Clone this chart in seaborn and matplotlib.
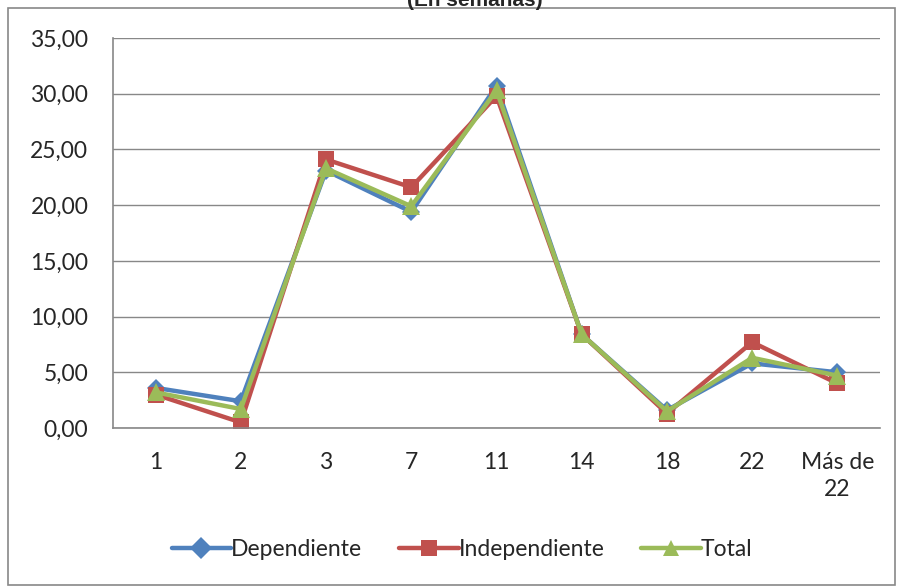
import matplotlib
matplotlib.use("Agg")
import matplotlib.pyplot as plt
import seaborn as sns
import pandas as pd
from matplotlib.patches import Rectangle

categories = ["1", "2", "3", "7", "11", "14", "18", "22", "Más de\n22"]
dependiente = [3.6, 2.4, 23.1, 19.4, 30.7, 8.4, 1.6, 5.8, 5.0]
independiente = [3.0, 0.5, 24.1, 21.6, 29.8, 8.4, 1.3, 7.7, 4.0]
total = [3.2, 1.7, 23.3, 19.9, 30.3, 8.4, 1.5, 6.3, 4.7]
series_names = ["Dependiente", "Independiente", "Total"]
y_ticks = [0, 5, 10, 15, 20, 25, 30, 35]

rows = []
for name, vals in zip(series_names, [dependiente, independiente, total]):
    for c, v in zip(categories, vals):
        rows.append({"Semana": c, "Valor": v, "Serie": name})
df = pd.DataFrame(rows)

sns.set_style("white")
plt.rcParams["font.family"] = ["Lato", "DejaVu Sans"]

fig = plt.figure(figsize=(8.97, 5.87), dpi=100)
ax = fig.add_axes([113/897, 1-428/587, (880-113)/897, (428-38)/587])

palette = {"Dependiente": "#4F81BD", "Independiente": "#C0504D", "Total": "#9BBB59"}
markers = {"Dependiente": "D", "Independiente": "s", "Total": "^"}
sizes = {"Dependiente": 9, "Independiente": 12, "Total": 13}

sns.lineplot(data=df, x="Semana", y="Valor", hue="Serie", style="Serie",
             palette=palette, markers=markers, dashes=False, linewidth=3.2,
             markersize=11, markeredgewidth=0, ax=ax, sort=False, legend=True)
for line, name in zip(ax.lines, series_names):
    line.set_markersize(sizes[name])

ax.set_xlim(-0.5, len(categories) - 0.5)
ax.set_ylim(0, 35)
ax.set_yticks(y_ticks)
ax.set_yticklabels([f"{t:.2f}".replace(".", ",") for t in y_ticks], fontsize=16.5)
ax.set_xticks([i - 0.5 for i in range(len(categories) + 1)])
ax.set_xticklabels([])
ax.set_xticks(range(len(categories)), minor=True)
ax.set_xticklabels(categories, minor=True, fontsize=16.5, linespacing=1.35)
ax.tick_params(axis="x", which="minor", length=0, pad=17)
ax.tick_params(axis="x", which="major", length=5.8, color="#888888", direction="out")
ax.tick_params(axis="y", length=5.8, color="#888888", direction="out", pad=12)
ax.set_xlabel("")
ax.set_ylabel("")
ax.grid(axis="y", color="#888888", linewidth=1)
ax.set_axisbelow(True)
for s in ["top", "right"]:
    ax.spines[s].set_visible(False)
for s in ["left", "bottom"]:
    ax.spines[s].set_color("#888888")
    ax.spines[s].set_linewidth(1.2)

handles, labels = ax.get_legend_handles_labels()
ax.legend(handles, labels, loc="center", bbox_to_anchor=(462/897, 1 - 550/587),
          bbox_transform=fig.transFigure, ncol=3, frameon=False, fontsize=16.5,
          handlelength=2.6, handletextpad=0.0, columnspacing=1.6)

fig.text(475/897, 1 - 6/587, "(En semanas)", ha="center", va="baseline",
         fontsize=15, fontweight="bold", family=["Liberation Sans", "DejaVu Sans"])

fig.patches.append(Rectangle((8/897, 2/587), 887/897, (585-8)/587,
                             transform=fig.transFigure, fill=False,
                             edgecolor="#888888", linewidth=1.2))

fig.savefig("out.png", dpi=100)
